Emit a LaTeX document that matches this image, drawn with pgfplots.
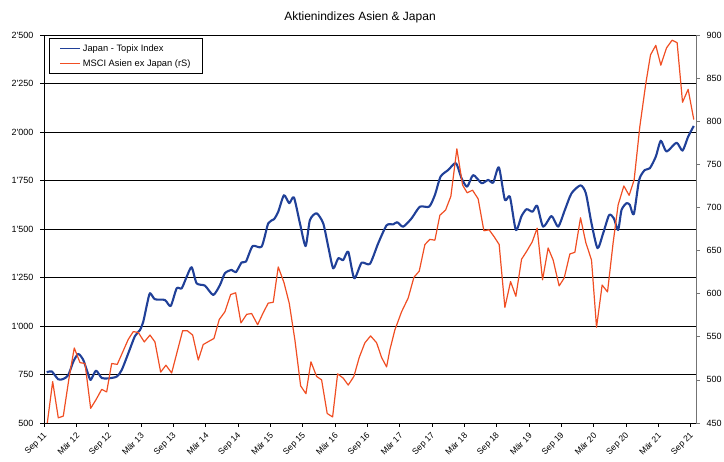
\documentclass[border=0pt]{standalone}
\usepackage{pgfplots}
\pgfplotsset{compat=1.18}
\usepackage{fontspec}
\setmainfont{Liberation Sans}
\definecolor{topix}{RGB}{32,64,152}
\definecolor{msci}{RGB}{240,78,35}
\newcommand{\ap}{\textquotesingle}
\begin{document}
\begin{tikzpicture}[font=\fontsize{9}{10}\selectfont]
\path[use as bounding box] (-44pt,-39pt) rectangle (680pt,423pt);
\begin{axis}[
  at={(0,0)}, anchor=south west, scale only axis,
  width=652pt, height=388pt,
  xmin=0, xmax=121, ymin=500, ymax=2500,
  axis y line*=left, axis x line*=bottom,
  axis line style={black, line width=0.9pt},
  xtick={0,6,...,120},
  xticklabels={Sep 11,Mär 12,Sep 12,Mär 13,Sep 13,Mär 14,Sep 14,Mär 15,Sep 15,Mär 16,Sep 16,Mär 17,Sep 17,Mär 18,Sep 18,Mär 19,Sep 19,Mär 20,Sep 20,Mär 21,Sep 21},
  xticklabel style={font=\fontsize{8.6}{9}\selectfont, yshift=-7pt, xshift=2pt, rotate=45, anchor=east, inner sep=0.5pt},
  ytick={500,750,...,2500},
  yticklabels={500,750,1\ap000,1\ap250,1\ap500,1\ap750,2\ap000,2\ap250,2\ap500},
  yticklabel style={xshift=-3pt},
  ymajorgrids, grid style={black, line width=0.6pt},
  tick align=outside, major tick length=4pt,
  tick style={black, line width=0.6pt},
]
\addplot[topix, line width=2.1pt, smooth, tension=0.4, line join=round] coordinates {
(0.50,761) (1.43,766) (2.65,725) (3.58,727) (4.51,747) (5.44,816) (6.36,856) (7.29,825) (8.11,759) (8.66,722) (9.65,770) (10.71,732) (11.93,730) (13.49,739) (14.42,773) (15.64,859) (16.88,948) (17.81,979) (18.42,1022) (19.16,1117) (19.67,1169) (20.59,1138) (22.45,1134) (23.51,1103) (24.62,1194) (25.55,1194) (26.48,1254) (27.40,1303) (28.33,1220) (29.87,1208) (31.41,1160) (32.65,1211) (33.58,1272) (34.82,1289) (35.62,1277) (36.68,1328) (37.48,1332) (38.72,1412) (40.39,1409) (41.61,1529) (42.67,1550) (43.47,1589) (44.53,1674) (45.51,1633) (46.38,1663) (47.50,1529) (48.55,1412) (49.35,1546) (50.59,1581) (51.82,1529) (52.75,1409) (53.67,1297) (54.60,1349) (55.53,1340) (56.46,1383) (57.57,1246) (58.94,1326) (60.48,1320) (62.02,1426) (63.58,1519) (64.81,1524) (65.55,1535) (66.66,1512) (68.22,1555) (69.76,1615) (71.48,1615) (72.54,1675) (73.60,1770) (75.01,1804) (76.44,1839) (77.50,1761) (78.53,1718) (79.65,1778) (81.21,1736) (82.43,1753) (83.36,1739) (84.42,1818) (85.53,1650) (86.46,1667) (87.57,1495) (88.63,1567) (89.56,1602) (90.67,1589) (91.52,1620) (92.63,1512) (94.19,1567) (95.42,1512) (96.66,1598) (97.90,1684) (99.57,1725) (100.56,1684) (101.61,1529) (102.73,1401) (103.77,1478) (104.88,1572) (105.75,1555) (106.55,1495) (107.18,1598) (108.11,1633) (108.72,1624) (109.46,1576) (110.45,1753) (111.50,1804) (112.43,1813) (113.54,1873) (114.47,1955) (115.53,1899) (117.38,1945) (118.50,1904) (119.54,1976) (120.59,2031)
};
\end{axis}
\begin{axis}[
  at={(0,0)}, anchor=south west, scale only axis,
  width=652pt, height=388pt,
  xmin=0, xmax=121, ymin=450, ymax=900,
  axis y line*=right, axis x line=none,
  y axis line style={black!55, line width=0.9pt},
  ytick={450,500,...,900},
  yticklabels={450,500,550,600,650,700,750,800,850,900},
  yticklabel style={xshift=3pt},
  tick align=outside, major tick length=4pt,
  tick style={black!55, line width=0.6pt},
  legend cell align=left,
  legend style={at={(0.0077,0.9923)}, anchor=north west, draw=black, line width=0.6pt,
    fill=white, font=\fontsize{9.3}{11}\selectfont, inner xsep=10pt, inner ysep=4pt, row sep=3pt},
  legend image code/.code={\draw[#1] (0pt,0pt) -- (20pt,0pt);},
]
\addlegendimage{topix, line width=1.6pt}
\addlegendentry{Japan - Topix Index}
\addplot[msci, line width=1.2pt, line join=round] coordinates {
(0.61,450) (1.61,498) (2.65,456) (3.58,458) (4.69,504) (5.62,537) (6.68,520) (7.61,519) (8.66,467) (9.65,477) (10.71,489) (11.63,486) (12.56,519) (13.60,518) (15.64,547) (16.57,556) (17.50,555) (18.61,544) (19.67,552) (20.59,544) (21.65,509) (22.63,517) (23.69,508) (24.73,533) (25.73,557) (26.59,557) (27.59,552) (28.63,523) (29.55,541) (30.67,545) (31.54,548) (32.52,570) (33.58,579) (34.64,599) (35.57,601) (36.55,566) (37.61,576) (38.53,577) (39.65,564) (40.69,578) (41.61,589) (42.54,590) (43.47,631) (44.53,613) (45.51,589) (46.57,546) (47.63,493) (48.61,484) (49.54,521) (50.59,504) (51.52,500) (52.56,461) (53.56,457) (54.49,507) (55.53,502) (56.46,494) (57.51,504) (58.50,526) (59.55,543) (60.61,551) (61.73,543) (62.65,526) (63.58,515) (64.19,535) (65.12,558) (66.36,579) (67.59,595) (68.65,619) (69.63,626) (70.69,657) (71.61,663) (72.54,662) (73.47,691) (74.53,697) (75.51,713) (76.62,768) (77.68,726) (78.53,717) (79.53,720) (80.57,710) (81.63,673) (82.61,674) (83.54,666) (84.47,657) (85.53,584) (86.59,614) (87.57,597) (88.63,640) (89.56,649) (90.60,660) (91.52,676) (92.52,616) (93.56,653) (94.49,639) (95.60,609) (96.53,618) (97.59,646) (98.52,648) (99.57,688) (100.56,659) (101.61,639) (102.54,561) (103.58,610) (104.58,602) (105.62,659) (106.55,703) (107.61,725) (108.59,714) (109.52,732) (110.58,794) (111.69,844) (112.56,877) (113.54,888) (114.47,865) (115.53,885) (116.57,894) (117.50,891) (118.50,822) (119.54,837) (120.59,802)
};
\addlegendentry{MSCI Asien ex Japan (rS)}
\end{axis}
\node[font=\fontsize{12}{14}\selectfont] at (316pt,406pt) {Aktienindizes Asien \& Japan};
\end{tikzpicture}
\end{document}
